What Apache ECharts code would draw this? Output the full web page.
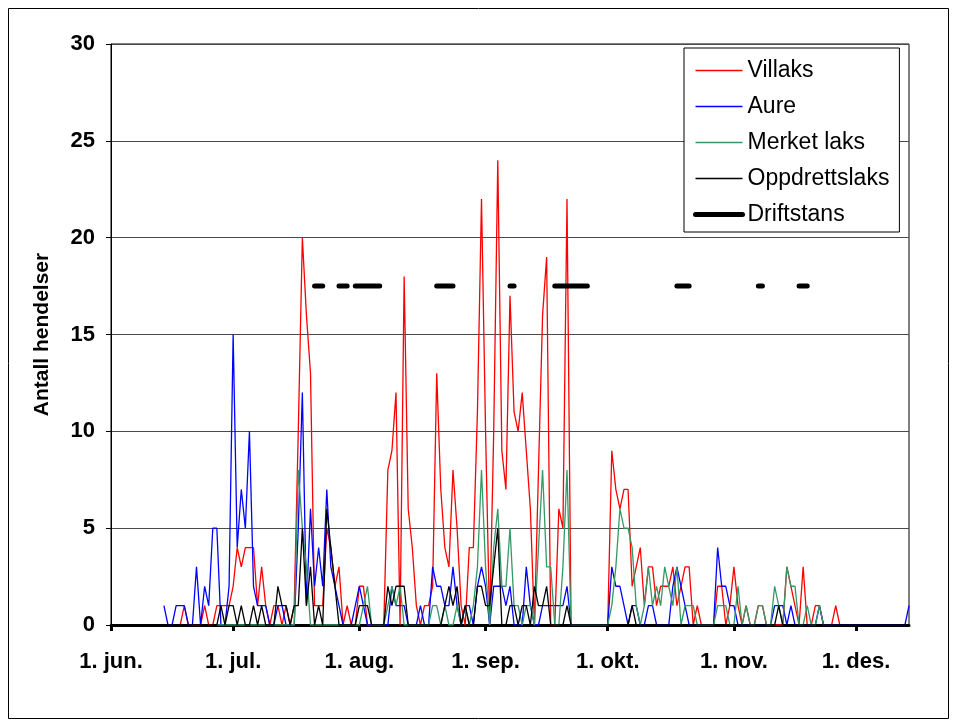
<!DOCTYPE html>
<html><head><meta charset="utf-8">
<script src="https://cdn.jsdelivr.net/npm/echarts@6/dist/echarts.min.js"></script>
<style>html,body{margin:0;padding:0;background:#fff}#c{width:957px;height:728px}</style>
</head><body><div id="c"></div>
<script>
// Days from 1 June (index 0) to 14 December (index 196)
const monthLabels = ['1. jun.', '1. jul.', '1. aug.', '1. sep.', '1. okt.', '1. nov.', '1. des.'];
const yTicks = [0, 5, 10, 15, 20, 25, 30];
const _ = null;

const villaks = [
  _,_,_,_,_,_,_,_,_,_,
  _,_,_,_,_,_,_,0,1,0,
  0,0,0,1,0,0,1,1,1,1,
  2,4,3,4,4,4,1,3,1,0,
  1,1,0,1,0,1,10,20,16,13,
  1,1,1,5,4,2,3,0,1,0,
  0,2,2,0,0,0,0,0,8,9,
  12,0,18,6,4,1,0,1,1,2,
  13,7,4,3,8,5,1,0,4,4,
  11,22,10,0,10,24,9,7,17,11,
  10,12,9,6,0,8,16,19,0,0,
  6,5,22,0,0,0,0,0,0,0,
  0,0,0,9,7,6,7,7,2,3,
  4,1,3,3,1,2,2,2,3,1,
  2,3,3,0,1,0,0,0,0,2,
  2,0,1,3,1,0,1,0,0,1,
  1,0,0,0,0,0,3,2,1,0,
  3,0,0,1,1,0,0,0,1,0,
  _,_,_,_,_,_,_,_,_,_,
  _,_,_,_,_,_,_
];
const aure = [
  _,_,_,_,_,_,_,_,_,_,
  _,_,_,1,0,0,1,1,1,0,
  0,3,0,2,1,5,5,0,0,2,
  15,4,7,5,10,2,1,1,1,0,
  0,1,1,0,0,0,5,12,1,6,
  2,4,2,7,3,2,1,0,0,0,
  1,2,1,0,0,0,0,0,0,2,
  1,1,1,0,0,0,1,0,0,3,
  2,2,1,1,3,1,0,1,1,0,
  2,3,2,0,2,2,2,1,2,0,
  0,0,3,1,0,0,1,1,1,1,
  1,1,2,0,0,0,0,0,0,0,
  0,0,0,3,2,2,1,0,1,1,
  0,0,1,1,0,0,0,0,2,3,
  2,1,0,0,0,0,0,0,0,4,
  2,2,1,1,0,0,0,0,0,0,
  0,0,0,1,1,1,0,1,0,0,
  0,0,0,0,1,0,0,0,0,0,
  0,0,0,0,0,0,0,0,0,0,
  0,0,0,0,0,0,1
];
const merketLaks = [
  _,_,_,_,_,_,_,_,_,_,
  _,_,_,_,_,_,_,_,_,_,
  _,_,_,_,_,_,0,0,0,0,
  0,0,0,0,0,0,0,0,0,0,
  0,0,0,0,0,0,8,5,3,0,
  0,0,0,0,0,0,0,0,0,0,
  0,0,1,2,0,0,0,0,1,2,
  1,2,0,0,0,0,0,0,0,1,
  1,0,1,0,0,1,0,1,0,1,
  3,8,3,0,4,6,2,2,5,1,
  1,0,1,1,0,4,8,3,3,0,
  0,3,8,0,0,0,0,0,0,0,
  0,0,0,1,3,6,5,5,4,1,
  0,1,3,1,2,1,3,2,1,3,
  0,1,1,1,0,0,0,0,0,1,
  1,1,0,0,2,0,1,0,0,1,
  1,0,0,2,1,0,3,2,2,0,
  0,1,0,0,1,0,_,_,_,_,
  _,_,_,_,_,_,_,_,_,_,
  _,_,_,_,_,_,_
];
const oppdrettslaks = [
  _,_,_,_,_,_,_,_,_,_,
  _,_,_,0,0,0,0,0,0,0,
  0,0,0,0,0,0,0,1,0,1,
  1,0,1,0,0,1,0,1,0,0,
  0,2,1,1,0,1,1,5,1,3,
  0,1,0,6,4,2,0,0,0,0,
  0,1,1,1,0,0,0,0,2,1,
  2,2,2,0,0,0,0,0,0,0,
  0,0,1,2,1,2,0,1,0,0,
  2,2,1,1,3,5,0,0,1,1,
  0,1,1,0,2,1,1,2,0,0,
  0,0,1,0,0,0,0,0,0,0,
  0,0,0,0,0,0,0,0,1,0,
  0,0,0,0,0,0,0,0,0,0,
  0,0,0,0,0,0,0,0,0,0,
  0,0,0,0,0,0,0,0,0,0,
  0,0,0,0,1,0,0,0,0,0,
  0,0,0,0,0,0,0,0,0,0,
  0,0,0,0,0,0,0,0,0,0,
  0,0,0,0,0,0,0
];
// Days (index from 1 June) with production stop, drawn at level 17.5
const driftstansDays = [50,51,52, 56,57,58, 60,61,62,63,64,65,66, 80,81,82,83,84, 98,99,
  109,110,111,112,113,114,115,116,117, 139,140,141,142, 159,160, 169,170,171];
const driftstansLevel = 17.5;

const monthNames = ['jan.','feb.','mar.','apr.','mai','jun.','jul.','aug.','sep.','okt.','nov.','des.'];
const categories = [];
for (let i = 0; i < villaks.length; i++) {
  const d = new Date(Date.UTC(2001, 5, 1 + i));
  categories.push(d.getUTCDate() + '. ' + monthNames[d.getUTCMonth()]);
}
const isMonthStart = (idx) => monthLabels.indexOf(categories[idx]) >= 0;
const driftstans = categories.map((c, i) => driftstansDays.indexOf(i) >= 0 ? driftstansLevel : null);

const FONT = 'Arial, "Liberation Sans", sans-serif';
const chart = echarts.init(document.getElementById('c'), null, {renderer: 'canvas'});
const thin = (color) => ({type: 'line', symbol: 'none', showSymbol: false, connectNulls: false,
  lineStyle: {color: color, width: 1.3}, itemStyle: {color: color}});
chart.setOption({
  animation: false,
  backgroundColor: '#fff',
  grid: {left: 111, right: 48, top: 44, bottom: 103, show: true, borderColor: '#000', borderWidth: 1, backgroundColor: 'transparent'},
  graphic: [{type: 'rect', shape: {x: 8.5, y: 8.5, width: 940, height: 710}, style: {fill: 'none', stroke: '#000', lineWidth: 1}, z: -1}],
  legend: {
    orient: 'vertical', left: 684, top: 48, padding: [11, 10, 6, 9], itemGap: 13,
    itemWidth: 47, itemHeight: 14, borderColor: '#000', borderWidth: 1, backgroundColor: '#fff',
    itemStyle: {color: 'rgba(0,0,0,0)', borderColor: 'rgba(0,0,0,0)', borderWidth: 0, opacity: 0},
    textStyle: {fontFamily: FONT, fontSize: 23, color: '#000'},
    data: [
      {name: 'Villaks', lineStyle: {width: 1.5}},
      {name: 'Aure', lineStyle: {width: 1.5}},
      {name: 'Merket laks', lineStyle: {width: 1.5}},
      {name: 'Oppdrettslaks', lineStyle: {width: 1.5}},
      {name: 'Driftstans', lineStyle: {width: 5}}
    ]
  },
  xAxis: {
    type: 'category', data: categories, boundaryGap: false,
    axisLine: {lineStyle: {color: '#000', width: 3}},
    axisTick: {show: true, interval: (i) => isMonthStart(i), length: 6, lineStyle: {color: '#000', width: 3}},
    axisLabel: {interval: (i) => isMonthStart(i), margin: 26, fontFamily: FONT, fontSize: 22, fontWeight: 'bold', color: '#000'},
    splitLine: {show: false}
  },
  yAxis: {
    type: 'value', min: yTicks[0], max: yTicks[yTicks.length - 1], interval: 5,
    name: 'Antall hendelser', nameLocation: 'middle', nameRotate: 90, nameGap: 58,
    nameTextStyle: {fontFamily: FONT, fontSize: 21, fontWeight: 'bold', color: '#000'},
    axisLine: {show: true, lineStyle: {color: '#000', width: 1}},
    axisTick: {show: true, length: 5, lineStyle: {color: '#000'}},
    axisLabel: {margin: 16, fontFamily: FONT, fontSize: 22, fontWeight: 'bold', color: '#000'},
    splitLine: {show: true, lineStyle: {color: '#4a4a4a', width: 1}}
  },
  series: [
    Object.assign(thin('#ff0000'), {name: 'Villaks', data: villaks}),
    Object.assign(thin('#0000ff'), {name: 'Aure', data: aure}),
    Object.assign(thin('#339966'), {name: 'Merket laks', data: merketLaks}),
    Object.assign(thin('#000000'), {name: 'Oppdrettslaks', data: oppdrettslaks}),
    {type: 'line', name: 'Driftstans', data: driftstans, symbol: 'none', showSymbol: false, connectNulls: false,
     lineStyle: {color: '#000', width: 5, cap: 'round'}, itemStyle: {color: '#000'}}
  ]
});
</script></body></html>
